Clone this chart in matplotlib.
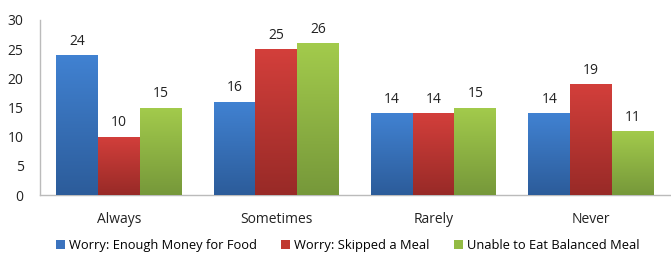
import matplotlib
matplotlib.use("Agg")
import matplotlib.pyplot as plt
import numpy as np
from matplotlib.colors import LinearSegmentedColormap
from matplotlib.patches import Patch

categories = ["Always", "Sometimes", "Rarely", "Never"]
series_names = ["Worry: Enough Money for Food", "Worry: Skipped a Meal", "Unable to Eat Balanced Meal"]
money = [24, 16, 14, 14]
skipped = [10, 25, 14, 19]
balanced = [15, 26, 15, 11]
yticks = [0, 5, 10, 15, 20, 25, 30]

tops = ["#4182D2", "#D33F3B", "#A3CB4C"]
bottoms = ["#2C5C9A", "#982A27", "#76983A"]
legend_cols = ["#3B73BE", "#C0392F", "#93BB44"]

plt.rcParams['font.family'] = ['Open Sans', 'DejaVu Sans']
fig = plt.figure(figsize=(6.71, 2.56), dpi=100)
ax = fig.add_axes([0.06, 0.238, 0.938, 0.684])

x = np.arange(len(categories))
w = 0.265
data = [money, skipped, balanced]
grad = np.linspace(1, 0, 256).reshape(-1, 1)
for i, vals in enumerate(data):
    bars = ax.bar(x + (i - 1) * w, vals, w, color=legend_cols[i], zorder=2)
    cmap = LinearSegmentedColormap.from_list("g%d" % i, [bottoms[i], tops[i]])
    for b, v in zip(bars, vals):
        bx = b.get_x()
        im = ax.imshow(grad, cmap=cmap, aspect='auto', extent=[bx, bx + b.get_width(), 0, b.get_height()],
                       zorder=3, vmin=0, vmax=1)
        im.set_clip_path(b)
        ax.annotate(str(v), (bx + b.get_width() / 2, v), xytext=(0, 4.5), textcoords='offset points',
                    ha='center', va='bottom', fontsize=10, color='#222222')

ax.set_xlim(-0.5, len(categories) - 0.5)
ax.set_ylim(0, 30)
ax.set_yticks(yticks)
ax.set_xticks(x)
ax.set_xticklabels(categories)
ax.tick_params(axis='both', length=0, labelsize=10, colors='#222222')
ax.tick_params(axis='x', pad=12)
ax.tick_params(axis='y', pad=12)
for s in ['top', 'right']:
    ax.spines[s].set_visible(False)
for s in ['left', 'bottom']:
    ax.spines[s].set_color('#BBBBBB')
    ax.spines[s].set_linewidth(1.0)

handles = [Patch(facecolor=c, edgecolor='none') for c in legend_cols]
fig.legend(handles, series_names, loc='center', bbox_to_anchor=(0.518, 0.04), ncol=3, frameon=False,
           fontsize=9.3, handlelength=0.7, handleheight=0.7, handletextpad=0.3, columnspacing=1.9)

fig.savefig("out.png", dpi=100)
